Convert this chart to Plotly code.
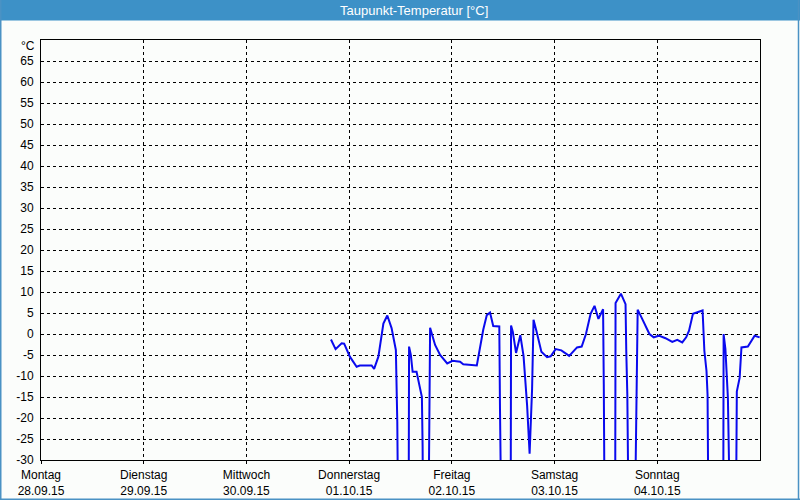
import plotly.graph_objects as go

# ---- data ----
times = [
    "2015-09-30 19:45", "2015-09-30 20:50", "2015-09-30 22:15", "2015-09-30 22:50",
    "2015-10-01 00:10", "2015-10-01 01:45", "2015-10-01 02:30", "2015-10-01 05:15",
    "2015-10-01 05:50", "2015-10-01 06:50", "2015-10-01 08:00", "2015-10-01 08:55",
    "2015-10-01 09:55", "2015-10-01 10:55", "2015-10-01 11:15", "2015-10-01 11:25",
    "2015-10-01 13:55", "2015-10-01 14:00", "2015-10-01 14:25", "2015-10-01 14:50",
    "2015-10-01 15:45", "2015-10-01 16:35", "2015-10-01 17:00", "2015-10-01 17:10",
    "2015-10-01 17:15", "2015-10-01 18:35", "2015-10-01 18:45", "2015-10-01 18:55",
    "2015-10-01 20:05", "2015-10-01 21:15", "2015-10-01 22:55", "2015-10-02 00:10",
    "2015-10-02 01:55", "2015-10-02 02:40", "2015-10-02 05:50", "2015-10-02 06:25",
    "2015-10-02 07:20", "2015-10-02 08:10", "2015-10-02 08:55", "2015-10-02 09:40",
    "2015-10-02 11:05", "2015-10-02 11:15", "2015-10-02 11:30", "2015-10-02 13:45",
    "2015-10-02 13:50", "2015-10-02 14:15", "2015-10-02 15:00", "2015-10-02 16:00",
    "2015-10-02 16:45", "2015-10-02 17:35", "2015-10-02 18:10", "2015-10-02 18:45",
    "2015-10-02 19:05", "2015-10-02 19:45", "2015-10-02 20:55", "2015-10-02 22:15",
    "2015-10-02 23:05", "2015-10-03 00:15", "2015-10-03 01:35", "2015-10-03 03:25",
    "2015-10-03 05:15", "2015-10-03 06:20", "2015-10-03 07:20", "2015-10-03 08:25",
    "2015-10-03 09:20", "2015-10-03 10:15", "2015-10-03 11:20", "2015-10-03 11:30",
    "2015-10-03 11:40", "2015-10-03 14:10", "2015-10-03 14:15", "2015-10-03 15:30",
    "2015-10-03 16:35", "2015-10-03 16:45", "2015-10-03 17:00", "2015-10-03 17:15",
    "2015-10-03 18:50", "2015-10-03 19:00", "2015-10-03 19:10", "2015-10-03 19:25",
    "2015-10-03 20:20", "2015-10-03 22:10", "2015-10-03 23:10", "2015-10-04 00:20",
    "2015-10-04 01:55", "2015-10-04 03:30", "2015-10-04 04:40", "2015-10-04 05:50",
    "2015-10-04 06:45", "2015-10-04 07:25", "2015-10-04 08:20", "2015-10-04 09:45",
    "2015-10-04 10:35", "2015-10-04 11:00", "2015-10-04 11:30", "2015-10-04 11:45",
    "2015-10-04 11:55", "2015-10-04 15:25", "2015-10-04 15:30", "2015-10-04 15:55",
    "2015-10-04 16:30", "2015-10-04 16:55", "2015-10-04 18:25", "2015-10-04 18:35",
    "2015-10-04 19:15", "2015-10-04 19:40", "2015-10-04 21:10", "2015-10-04 22:45",
    "2015-10-04 23:55",
]
dewpoint = [
    -1.3, -3.6, -2.2, -2.3,
    -5.4, -7.8, -7.5, -7.5,
    -8.3, -5.4, 2.5, 4.4,
    1.4, -3.8, -20.9, -40,
    -40, -3.0, -5.0, -9.0,
    -9.0, -12.5, -15.0, -26.8,
    -40, -40, -18.0, 1.5,
    -2.6, -5.0, -7.0, -6.4,
    -6.6, -7.2, -7.5, -4.2,
    1.0, 4.5, 5.1, 1.9,
    1.8, -18.0, -40, -40,
    2.0, 0.5, -4.5, -0.3,
    -5.2, -17.0, -28.5, -13.0,
    3.4, 0.8, -4.2, -5.5,
    -5.3, -3.6, -3.9, -5.2,
    -3.2, -3.0, 0.0, 4.8,
    6.7, 3.6, 5.9, -12.0,
    -40, -40, 7.4, 9.6,
    7.1, -4.0, -14.5, -40,
    -40, -26.9, -10.9, 5.8,
    3.9, 0.0, -0.8, -0.4,
    -1.0, -1.9, -1.4, -2.0,
    -0.8, 0.8, 4.8, 5.2,
    5.6, -4.0, -8.8, -14.5,
    -40, -40, 0.0, -3.6,
    -15.2, -40, -40, -13.7,
    -10.4, -3.2, -3.0, -0.4,
    -0.8,
]

day_ticks = ["2015-09-28", "2015-09-29", "2015-09-30", "2015-10-01",
             "2015-10-02", "2015-10-03", "2015-10-04"]
day_names = ["Montag", "Dienstag", "Mittwoch", "Donnerstag", "Freitag", "Samstag", "Sonntag"]
day_dates = ["28.09.15", "29.09.15", "30.09.15", "01.10.15", "02.10.15", "03.10.15", "04.10.15"]
y_ticks = list(range(-30, 70, 5))

# ---- layout geometry (pixels) ----
W, H = 800, 500
L, R, T, B = 41, 40, 40, 40
PW, PH = W - L - R, H - T - B


def px_x(p):
    return (p - L) / PW


def px_y(p):
    return (H - B - p) / PH


BG = "#fbfdfb"
BAR = "#3d91c7"
BORDER = "#4a92c4"
FONT = "Liberation Sans"

fig = go.Figure()
fig.add_trace(go.Scatter(
    x=times, y=dewpoint, mode="lines",
    line=dict(color="#0a0aee", width=2),
    showlegend=False, hoverinfo="skip",
))

fig.update_layout(
    template="none",
    width=W, height=H,
    margin=dict(l=L, r=R, t=T, b=B, pad=0, autoexpand=False),
    paper_bgcolor=BG, plot_bgcolor=BG,
    font=dict(family=FONT, size=12, color="black"),
    showlegend=False,
)

fig.update_xaxes(
    type="date", automargin=False,
    range=["2015-09-28", "2015-10-05"],
    tickmode="array", tickvals=day_ticks,
    ticktext=[f"{n}<br>{d}" for n, d in zip(day_names, day_dates)],
    ticks="outside", ticklen=3, tickwidth=1, tickcolor="black",
    ticklabelstandoff=1,
    showline=True, linecolor="black", linewidth=1, mirror=True,
    showgrid=True, gridcolor="black", gridwidth=1, griddash="3px,3px",
    zeroline=False,
    tickfont=dict(family=FONT, size=12, color="black"),
)
fig.update_yaxes(
    automargin=False,
    range=[-30, 70],
    tickmode="array", tickvals=y_ticks, ticktext=[str(v) for v in y_ticks],
    ticks="", ticklabelstandoff=4,
    showline=True, linecolor="black", linewidth=1, mirror=True,
    showgrid=True, gridcolor="black", gridwidth=1, griddash="3px,3px",
    zeroline=False,
    tickfont=dict(family=FONT, size=12, color="black"),
)

shapes = [
    # title bar
    dict(type="rect", xref="paper", yref="paper",
         x0=px_x(0), x1=px_x(W), y0=px_y(20.5), y1=px_y(0),
         fillcolor=BAR, line=dict(width=0), layer="above"),
    # outer border (left, right, bottom)
    dict(type="line", xref="paper", yref="paper",
         x0=px_x(0.75), x1=px_x(0.75), y0=px_y(0), y1=px_y(H),
         line=dict(color=BORDER, width=1.5)),
    dict(type="line", xref="paper", yref="paper",
         x0=px_x(W - 1.5), x1=px_x(W - 1.5), y0=px_y(0), y1=px_y(H),
         line=dict(color=BORDER, width=1.5)),
    dict(type="line", xref="paper", yref="paper",
         x0=px_x(0), x1=px_x(W), y0=px_y(H - 0.75), y1=px_y(H - 0.75),
         line=dict(color=BORDER, width=1.5)),
]
fig.update_layout(shapes=shapes)

fig.add_annotation(
    text="Taupunkt-Temperatur [°C]", xref="paper", yref="paper",
    x=px_x(414), y=px_y(10.5), xanchor="center", yanchor="middle",
    showarrow=False, font=dict(family=FONT, size=13, color="white"),
)
fig.add_annotation(
    text="°C", xref="paper", yref="paper",
    x=px_x(37), y=px_y(46), xanchor="right", yanchor="middle",
    showarrow=False, font=dict(family=FONT, size=12, color="black"),
)

fig.write_html("out.html")
